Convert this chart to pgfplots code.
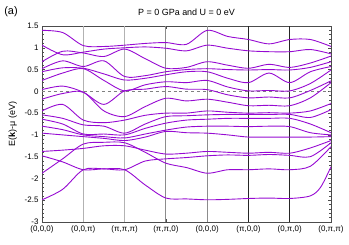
\documentclass[border=0pt]{standalone}
\usepackage{fontspec}
\setmainfont{Liberation Sans}
\usepackage{pgfplots}
\pgfplotsset{compat=1.18}
\definecolor{band}{RGB}{150,10,210}
\tikzset{bnd/.style={band, line width=0.9pt, smooth, tension=0.5, mark=none}}
\begin{document}
\begin{tikzpicture}
\begin{axis}[
  scale only axis, width=289bp, height=196bp,
  xmin=0, xmax=7, ymin=-3, ymax=1.5,
  xtick={0,1,2,3,4,5,6,7},
  xticklabels={(0,0,0),(0,0,π),(π,π,π),(π,π,0),(0,0,0),(π,0,0),(0,π,0),(0,π,π)},
  ytick={-3,-2.5,-2,-1.5,-1,-0.5,0,0.5,1,1.5},
  minor y tick num=4,
  tick align=inside, tick pos=both,
  major tick length=3bp, minor tick length=1.8bp,
  /pgf/number format/assume math mode=true,
  tick label style={font=\fontsize{8}{9}\selectfont},
  ylabel={E(\textbf{k})-μ (eV)},
  ylabel style={font=\fontsize{9}{10}\selectfont, yshift=1bp},
  axis line style={black!70, line width=0.6pt},
  every tick/.style={black!70, line width=0.5pt},
  clip=true,
]
% vertical high-symmetry lines
\addplot[gray!60, line width=1pt, mark=none] coordinates {(1,-3)(1,1.5)};
\addplot[gray!60, line width=1pt, mark=none] coordinates {(2,-3)(2,1.5)};
\addplot[gray!90, line width=1pt, mark=none] coordinates {(3,-3)(3,1.5)};
\addplot[gray!90, line width=1pt, mark=none] coordinates {(4,-3)(4,1.5)};
\addplot[black!85, line width=0.9pt, mark=none] coordinates {(5,-3)(5,1.5)};
\addplot[black!85, line width=0.9pt, mark=none] coordinates {(6,-3)(6,1.5)};
\addplot[gray, dashed, line width=0.5pt, mark=none] coordinates {(0,0)(7,0)};
\addplot[bnd] coordinates {(0,1.40)(0.5,1.35)(1,1.05)(1.5,1.03)(2,1.06)(2.5,1.10)(3,1.12)(3.5,1.08)(4,1.40)(4.5,1.26)(5,1.19)(5.5,1.09)(6,1.19)(6.5,1.19)(7,1.03)};
\addplot[bnd] coordinates {(0,1.06)(0.5,0.84)(1,0.90)(1.5,0.97)(2,1.00)(2.5,1.02)(3,0.99)(3.5,0.93)(4,1.06)(4.5,0.99)(5,0.93)(5.5,0.91)(6,0.91)(6.5,0.96)(7,0.86)};
\addplot[bnd] coordinates {(0,0.68)(0.5,0.92)(1,0.88)(1.5,0.80)(2,0.97)(2.5,0.75)(3,0.53)(3.5,0.55)(4,0.68)(4.5,0.60)(5,0.53)(5.5,0.62)(6,0.55)(6.5,0.65)(7,0.81)};
\addplot[bnd] coordinates {(0,0.52)(0.5,0.70)(1,0.57)(1.5,0.70)(2,0.34)(2.5,0.36)(3,0.45)(3.5,0.50)(4,0.52)(4.5,0.50)(5,0.49)(5.5,0.50)(6,0.49)(6.5,0.55)(7,0.68)};
\addplot[bnd] coordinates {(0,0.45)(0.5,0.54)(1,0.53)(1.5,0.40)(2,0.26)(2.5,0.30)(3,0.38)(3.5,0.45)(4,0.45)(4.5,0.30)(5,0.20)(5.5,0.42)(6,0.20)(6.5,0.45)(7,0.57)};
\addplot[bnd] coordinates {(0,0.25)(0.5,0.42)(1,0.52)(1.5,0.25)(2,0.01)(2.5,0.15)(3,0.22)(3.5,0.20)(4,0.25)(4.5,0.10)(5,0.01)(5.5,0.02)(6,0.01)(6.5,0.18)(7,0.49)};
\addplot[bnd] coordinates {(0,0.04)(0.5,0.12)(1,-0.02)(1.5,-0.30)(2,0.01)(2.5,0.05)(3,0.11)(3.5,0.05)(4,0.04)(4.5,-0.08)(5,-0.15)(5.5,-0.13)(6,-0.15)(6.5,0.02)(7,0.24)};
\addplot[bnd] coordinates {(0,-0.18)(0.5,-0.05)(1,-0.02)(1.5,-0.45)(2,-0.58)(2.5,-0.35)(3,-0.16)(3.5,-0.22)(4,-0.18)(4.5,-0.25)(5,-0.33)(5.5,-0.32)(6,-0.33)(6.5,-0.15)(7,0.20)};
\addplot[bnd] coordinates {(0,-0.45)(0.5,-0.30)(1,-0.66)(1.5,-0.72)(2,-0.66)(2.5,-0.55)(3,-0.50)(3.5,-0.50)(4,-0.45)(4.5,-0.48)(5,-0.50)(5.5,-0.49)(6,-0.50)(6.5,-0.45)(7,-0.28)};
\addplot[bnd] coordinates {(0,-0.54)(0.5,-0.62)(1,-0.77)(1.5,-0.80)(2,-0.96)(2.5,-0.75)(3,-0.58)(3.5,-0.56)(4,-0.54)(4.5,-0.53)(5,-0.53)(5.5,-0.53)(6,-0.53)(6.5,-0.60)(7,-0.42)};
\addplot[bnd] coordinates {(0,-0.64)(0.5,-0.75)(1,-0.98)(1.5,-0.98)(2,-1.00)(2.5,-0.85)(3,-0.73)(3.5,-0.66)(4,-0.64)(4.5,-0.62)(5,-0.62)(5.5,-0.62)(6,-0.62)(6.5,-0.75)(7,-0.95)};
\addplot[bnd] coordinates {(0,-0.80)(0.5,-0.88)(1,-1.00)(1.5,-1.04)(2,-1.07)(2.5,-0.98)(3,-0.89)(3.5,-0.82)(4,-0.80)(4.5,-0.80)(5,-0.81)(5.5,-0.80)(6,-0.81)(6.5,-0.95)(7,-1.00)};
\addplot[bnd] coordinates {(0,-0.96)(0.5,-1.00)(1,-1.04)(1.5,-1.08)(2,-1.13)(2.5,-1.05)(3,-0.92)(3.5,-0.95)(4,-0.96)(4.5,-1.00)(5,-1.05)(5.5,-1.05)(6,-1.05)(6.5,-1.05)(7,-1.04)};
\addplot[bnd] coordinates {(0,-1.38)(0.5,-1.35)(1,-1.31)(1.5,-1.25)(2,-1.25)(2.5,-1.35)(3,-1.44)(3.5,-1.42)(4,-1.38)(4.5,-1.40)(5,-1.42)(5.5,-1.40)(6,-1.42)(6.5,-1.30)(7,-1.13)};
\addplot[bnd] coordinates {(0,-1.48)(0.5,-1.62)(1,-1.80)(1.5,-1.78)(2,-1.80)(2.5,-1.60)(3,-1.55)(3.5,-1.52)(4,-1.48)(4.5,-1.46)(5,-1.47)(5.5,-1.45)(6,-1.47)(6.5,-1.50)(7,-1.18)};
\addplot[bnd] coordinates {(0,-1.88)(0.5,-1.55)(1,-1.21)(1.5,-1.17)(2,-1.18)(2.5,-1.40)(3,-1.65)(3.5,-1.75)(4,-1.88)(4.5,-1.80)(5,-1.80)(5.5,-1.78)(6,-1.80)(6.5,-1.72)(7,-1.27)};
\addplot[bnd] coordinates {(0,-2.49)(0.5,-2.25)(1,-1.80)(1.5,-1.78)(2,-1.80)(2.5,-2.15)(3,-2.45)(3.5,-2.47)(4,-2.49)(4.5,-2.48)(5,-2.46)(5.5,-2.45)(6,-2.46)(6.5,-2.40)(6.75,-2.20)(7,-1.73)};
\end{axis}
\node[font=\fontsize{9}{10}\selectfont] at ([yshift=14bp]current axis.north) {P = 0 GPa and U = 0 eV};
\node[font=\fontsize{11}{12}\selectfont] at ([xshift=-31bp,yshift=14bp]current axis.north west) {(a)};
\pgfresetboundingbox
\path ([xshift=-42bp,yshift=-22bp]current axis.south west) rectangle ([xshift=18bp,yshift=26bp]current axis.north east);
\end{tikzpicture}
\end{document}
